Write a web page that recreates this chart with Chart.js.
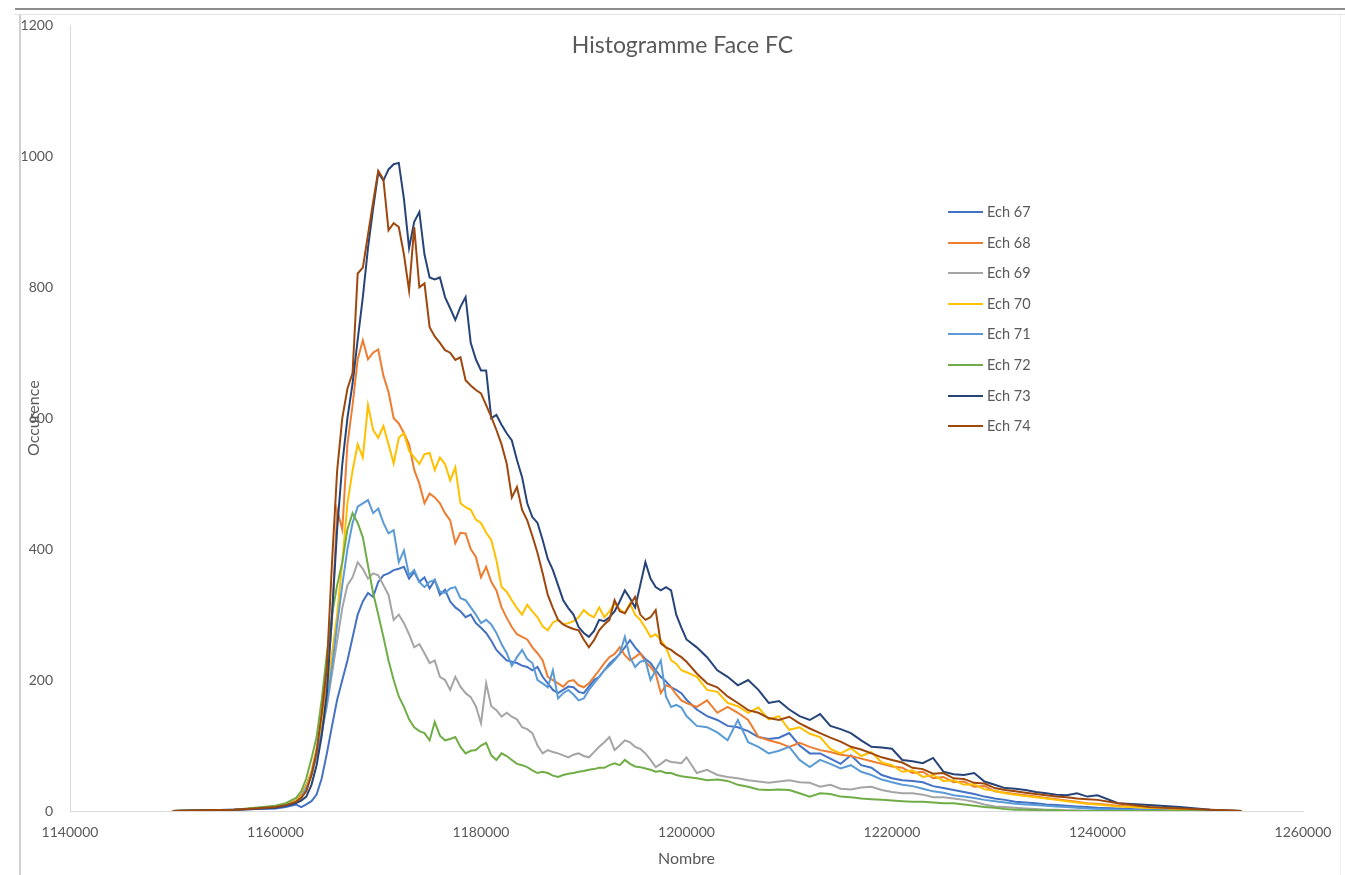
<!DOCTYPE html>
<html>
<head>
<meta charset="utf-8">
<title>Histogramme Face FC</title>
<script src="https://cdn.jsdelivr.net/npm/chart.js@4.4.1/dist/chart.umd.min.js"></script>
<style>
  html, body { margin: 0; padding: 0; background: #fff; }
  #wrap { position: relative; width: 1345px; height: 875px; overflow: hidden; font-family: Lato, 'Noto Sans', sans-serif; color: #595959; }
  .frame { position: absolute; }
  #chart { position: absolute; left: 0; top: 0; }
  #title { position: absolute; left: 0; width: 1365px; top: 31px; text-align: center; font-size: 23px; line-height: 1.2; }
  #legend { position: absolute; left: 948px; top: 0; }
  .item { position: absolute; left: 0; height: 20px; width: 120px; }
  .item .swatch { position: absolute; left: 0; top: 9px; width: 35px; height: 2px; }
  .item .txt { position: absolute; left: 39px; top: 0; font-size: 14.5px; line-height: 20px; white-space: nowrap; }
</style>
</head>
<body>
<div id="wrap">
  <div class="frame" style="left:15px; right:0; top:8px; height:2px; background:#8c8c8c"></div>
  <div class="frame" style="left:15px; right:0; top:14px; height:1px; background:#e2e2e2"></div>
  <div class="frame" style="left:19px; top:15px; bottom:0; width:2px; background:#d0d0d0"></div>
  <div class="frame" style="left:1340px; top:15px; bottom:0; width:1px; background:#ededed"></div>
  <canvas id="chart" width="1345" height="875"></canvas>
  <div id="title">Histogramme Face FC</div>
  <div id="legend"></div>
</div>
<script>
// Nombre (x) shared by every series
const nombre = [
  1150000, 1153000, 1156000, 1158000, 1160000, 1161000, 1162000,
  1162500, 1163000, 1163500, 1164000, 1164500, 1165000, 1165500, 1166000, 1166500, 1167000,
  1167500, 1168000, 1168500, 1169000, 1169500, 1170000, 1170500, 1171000, 1171500, 1172000,
  1172500, 1173000, 1173500, 1174000, 1174500, 1175000, 1175500, 1176000, 1176500, 1177000,
  1177500, 1178000, 1178500, 1179000, 1179500, 1180000, 1180500, 1181000, 1181500, 1182000,
  1182500, 1183000, 1183500, 1184000, 1184500, 1185000, 1185500, 1186000, 1186500, 1187000,
  1187500, 1188000, 1188500, 1189000, 1189500, 1190000, 1190500, 1191000, 1191500, 1192000,
  1192500, 1193000, 1193500, 1194000, 1194500, 1195000, 1195500, 1196000, 1196500, 1197000,
  1197500, 1198000, 1198500, 1199000, 1199500, 1200000,
  1201000, 1202000, 1203000, 1204000, 1205000, 1206000, 1207000, 1208000, 1209000, 1210000,
  1211000, 1212000, 1213000, 1214000, 1215000, 1216000, 1217000, 1218000, 1219000, 1220000,
  1221000, 1222000, 1223000, 1224000, 1225000, 1226000, 1227000, 1228000, 1229000, 1230000,
  1231000, 1232000, 1233000, 1234000, 1235000, 1236000, 1237000, 1238000, 1239000, 1240000,
  1242000, 1245000, 1248000, 1251000, 1254000
];

// Occurence per series
const ech67 = [
  0, 1, 2, 3, 4, 6, 10,
  6, 10, 15, 25, 50, 88, 130, 170, 200, 230,
  265, 300, 320, 333, 327, 350, 360, 363, 368, 370,
  373, 355, 365, 350, 357, 340, 353, 330, 338, 320,
  311, 305, 296, 300, 287, 280, 272, 260, 246, 238,
  230, 228, 226, 222, 220, 215, 220, 205, 195, 185,
  180, 185, 190, 189, 182, 180, 190, 200, 205, 215,
  225, 232, 240, 250, 261, 250, 241, 232, 226, 215,
  205, 198, 189, 185, 180, 170,
  155, 145, 139, 130, 128, 122, 113, 110, 112, 119,
  100, 88, 88, 80, 72, 85, 70, 66, 55, 50,
  47, 46, 44, 38, 35, 32, 29, 26, 22, 19,
  17, 14, 13, 12, 10, 9, 8, 7, 6, 5,
  4, 2, 1, 0, 0
];
const ech68 = [
  0, 1, 2, 4, 7, 10, 16,
  25, 40, 60, 95, 140, 200, 290, 460, 430, 560,
  620, 690, 719, 690, 700, 705, 665, 640, 600, 592,
  577, 560, 521, 500, 470, 485, 479, 470, 455, 444,
  409, 425, 424, 400, 388, 357, 373, 350, 337, 311,
  295, 281, 270, 266, 262, 250, 241, 230, 205, 200,
  195, 190, 198, 200, 192, 189, 195, 205, 215, 226,
  235, 240, 250, 238, 230, 235, 241, 228, 220, 210,
  180, 192, 189, 178, 169, 165,
  159, 169, 150, 159, 150, 139, 113, 108, 104, 98,
  104, 98, 93, 90, 86, 84, 80, 76, 72, 68,
  66, 58, 60, 50, 52, 44, 45, 37, 38, 30,
  28, 26, 24, 22, 20, 18, 16, 14, 12, 11,
  8, 5, 3, 1, 0
];
const ech69 = [
  0, 1, 2, 4, 6, 9, 14,
  20, 35, 55, 85, 120, 160, 210, 260, 310, 345,
  357, 380, 370, 355, 363, 360, 345, 330, 292, 300,
  287, 270, 250, 255, 241, 226, 230, 205, 200, 185,
  205, 190, 180, 174, 160, 134, 195, 160, 154, 144,
  150, 144, 140, 128, 125, 119, 100, 88, 93, 90,
  88, 85, 82, 86, 88, 84, 82, 90, 98, 105,
  113, 93, 100, 108, 105, 98, 95, 88, 78, 67,
  72, 78, 75, 74, 73, 82,
  58, 63, 55, 52, 50, 47, 45, 43, 45, 47,
  44, 43, 37, 40, 34, 33, 36, 37, 32, 29,
  27, 27, 25, 21, 21, 19, 17, 14, 10, 7,
  6, 5, 4, 3, 2, 2, 1, 1, 0, 0,
  0, 0, 0, 0, 0
];
const ech70 = [
  0, 1, 2, 4, 7, 10, 15,
  22, 38, 58, 90, 130, 180, 240, 300, 380, 470,
  520, 560, 540, 620, 582, 570, 588, 560, 531, 570,
  577, 550, 540, 530, 545, 547, 521, 540, 530, 505,
  525, 470, 464, 460, 445, 440, 425, 414, 383, 342,
  335, 322, 310, 300, 315, 305, 296, 282, 276, 288,
  292, 285, 287, 290, 296, 307, 300, 296, 311, 296,
  305, 317, 308, 302, 317, 300, 292, 280, 266, 270,
  261, 250, 230, 225, 215, 212,
  205, 185, 182, 165, 160, 150, 158, 140, 145, 124,
  128, 118, 113, 95, 88, 96, 84, 90, 74, 70,
  60, 62, 52, 55, 46, 47, 40, 41, 33, 31,
  27, 25, 23, 21, 19, 17, 15, 13, 11, 10,
  7, 5, 3, 1, 0
];
const ech71 = [
  0, 1, 2, 4, 6, 9, 14,
  20, 35, 55, 85, 120, 165, 220, 285, 345, 400,
  440, 465, 470, 475, 455, 462, 440, 424, 429, 380,
  398, 360, 368, 350, 342, 350, 353, 335, 333, 340,
  342, 325, 322, 311, 300, 287, 292, 285, 272, 255,
  241, 222, 235, 246, 232, 226, 200, 195, 189, 215,
  172, 180, 185, 178, 169, 172, 185, 195, 205, 215,
  222, 230, 240, 266, 235, 220, 228, 230, 200, 215,
  230, 175, 159, 162, 158, 145,
  130, 128, 120, 108, 139, 105, 98, 88, 92, 98,
  78, 67, 78, 72, 65, 70, 60, 55, 48, 44,
  40, 38, 34, 30, 28, 24, 22, 20, 17, 15,
  13, 11, 10, 9, 8, 7, 6, 5, 4, 3,
  2, 1, 0, 0, 0
];
const ech72 = [
  0, 1, 2, 5, 8, 12, 20,
  30, 50, 80, 113, 170, 240, 300, 345, 380, 430,
  455, 440, 418, 375, 333, 300, 266, 230, 200, 175,
  159, 140, 128, 122, 119, 108, 136, 115, 108, 110,
  113, 98, 88, 92, 93, 100, 104, 85, 78, 88,
  84, 78, 72, 70, 67, 62, 58, 60, 58, 54,
  52, 55, 57, 58, 60, 61, 63, 64, 66, 66,
  70, 73, 70, 78, 72, 68, 67, 65, 63, 60,
  61, 58, 58, 55, 53, 52,
  50, 47, 48, 46, 40, 37, 33, 32, 33, 32,
  27, 22, 27, 26, 22, 21, 19, 18, 17, 16,
  15, 14, 14, 13, 12, 12, 10, 8, 6, 5,
  3, 2, 2, 1, 1, 1, 0, 0, 0, 0,
  0, 0, 0, 0, 0
];
const ech73 = [
  0, 1, 2, 3, 5, 8, 12,
  16, 22, 40, 70, 115, 180, 300, 430, 530, 600,
  653, 720, 785, 860, 920, 975, 963, 980, 988, 990,
  935, 860, 900, 915, 850, 815, 812, 815, 785, 768,
  750, 770, 785, 715, 690, 673, 673, 600, 605, 590,
  577, 566, 536, 510, 470, 449, 440, 414, 385, 368,
  345, 322, 310, 300, 281, 272, 266, 275, 292, 290,
  296, 305, 320, 337, 325, 311, 345, 380, 355, 342,
  337, 342, 337, 300, 280, 262,
  250, 235, 215, 205, 192, 200, 185, 165, 168, 155,
  145, 139, 148, 130, 125, 119, 108, 98, 97, 95,
  78, 76, 73, 81, 60, 56, 55, 58, 45, 40,
  35, 34, 32, 29, 27, 25, 24, 27, 22, 24,
  12, 9, 6, 2, 0
];
const ech74 = [
  0, 1, 2, 4, 6, 9, 14,
  20, 30, 55, 90, 150, 220, 380, 520, 600, 645,
  669, 821, 830, 880, 930, 978, 965, 887, 898, 892,
  850, 795, 892, 800, 806, 739, 725, 715, 704, 700,
  689, 693, 658, 650, 643, 638, 620, 602, 582, 560,
  531, 479, 495, 460, 444, 420, 394, 363, 330, 310,
  292, 285, 281, 278, 276, 262, 250, 261, 276, 285,
  292, 322, 305, 302, 315, 327, 300, 292, 296, 307,
  256, 250, 246, 240, 235, 228,
  210, 195, 189, 175, 165, 154, 150, 142, 139, 144,
  134, 126, 119, 112, 106, 98, 94, 88, 82, 78,
  74, 66, 64, 57, 58, 50, 49, 43, 42, 35,
  32, 30, 28, 26, 24, 22, 21, 19, 18, 17,
  12, 6, 4, 2, 0
];

const seriesLabels = ['Ech 67', 'Ech 68', 'Ech 69', 'Ech 70', 'Ech 71', 'Ech 72', 'Ech 73', 'Ech 74'];
const seriesValues = [ech67, ech68, ech69, ech70, ech71, ech72, ech73, ech74];
const seriesColors = ['#4472C4', '#ED7D31', '#A5A5A5', '#FFC000', '#5B9BD5', '#70AD47', '#264478', '#9E480E'];

const TEXT = '#595959';
const AXIS = '#d9d9d9';

Chart.defaults.font.family = "Lato, 'Noto Sans', sans-serif";
Chart.defaults.color = TEXT;

const datasets = seriesLabels.map((label, s) => ({
  label,
  data: nombre.map((x, i) => ({ x, y: seriesValues[s][i] })),
  borderColor: seriesColors[s],
  backgroundColor: seriesColors[s],
  borderWidth: 2,
  pointRadius: 0,
  fill: false,
  tension: 0,
  // last series drawn on top, like in the workbook
  order: seriesLabels.length - s
}));

new Chart(document.getElementById('chart'), {
  type: 'line',
  data: { datasets },
  options: {
    responsive: false,
    animation: false,
    devicePixelRatio: 1,
    layout: { padding: { top: 25, right: 42, bottom: 0, left: 0 } },
    plugins: {
      legend: { display: false },
      title: { display: false },
      tooltip: { enabled: false }
    },
    scales: {
      x: {
        type: 'linear',
        min: 1140000,
        max: 1260000,
        afterFit(scale) { scale.height = 64; },
        grid: { display: false, drawTicks: false },
        border: { color: AXIS, width: 1 },
        ticks: {
          stepSize: 20000,
          autoSkip: false,
          maxRotation: 0,
          padding: 13,
          color: TEXT,
          font: { size: 14 },
          callback: v => String(v)
        },
        title: {
          display: true,
          text: 'Nombre',
          color: TEXT,
          font: { size: 16 },
          padding: { top: 0, bottom: 7 }
        }
      },
      y: {
        min: 0,
        max: 1200,
        afterFit(scale) { scale.width = 70; },
        grid: { display: false, drawTicks: false },
        border: { color: AXIS, width: 1 },
        ticks: {
          stepSize: 200,
          padding: 17,
          color: TEXT,
          font: { size: 14 },
          callback: v => String(v)
        },
        title: {
          display: true,
          text: 'Occurence',
          color: TEXT,
          font: { size: 16 },
          padding: { top: 24, bottom: 0 }
        }
      }
    }
  }
});

// legend, placed inside the plot like the original
const legend = document.getElementById('legend');
seriesLabels.forEach((label, s) => {
  const item = document.createElement('div');
  item.className = 'item';
  item.style.top = (202 + s * 30.6) + 'px';
  item.innerHTML = '<div class="swatch" style="background:' + seriesColors[s] + '"></div><span class="txt">' + label + '</span>';
  legend.appendChild(item);
});
</script>
</body>
</html>
